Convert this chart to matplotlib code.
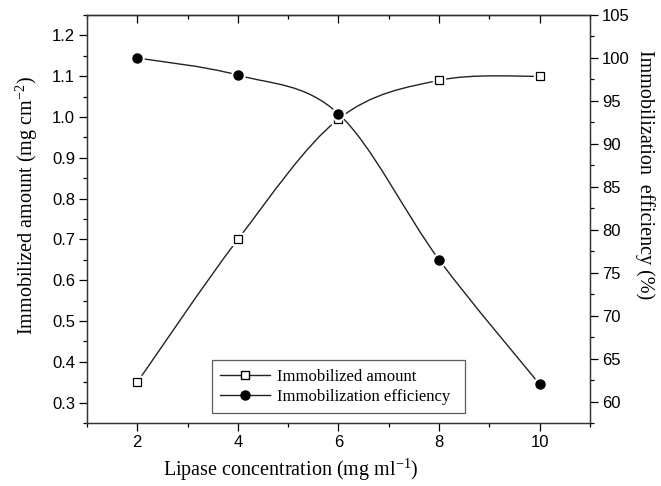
import numpy as np
import matplotlib.pyplot as plt
from matplotlib.path import Path
from matplotlib.patches import PathPatch
from matplotlib.lines import Line2D
from matplotlib.ticker import MultipleLocator

# lipase loading data
conc = [2, 4, 6, 8, 10]
amount = [0.35, 0.70, 0.995, 1.09, 1.10]
efficiency = [100.0, 98.0, 93.5, 76.5, 62.0]

x_ticks = [2, 4, 6, 8, 10]
left_ticks = [0.3, 0.4, 0.5, 0.6, 0.7, 0.8, 0.9, 1.0, 1.1, 1.2]
right_ticks = [60, 65, 70, 75, 80, 85, 90, 95, 100, 105]

sans = ['Liberation Sans', 'DejaVu Sans']
serif = ['Liberation Serif', 'DejaVu Serif']
ink = '#222222'


# smooth curve through the points as a bezier path (Catmull-Rom tangents)
def spline_path(xs, ys):
    p = np.column_stack([xs, ys]).astype(float)
    n = len(p)
    verts = [p[0]]
    codes = [Path.MOVETO]
    for i in range(n - 1):
        prev_p = p[i - 1] if i > 0 else p[i]
        next_p = p[i + 2] if i + 2 < n else p[i + 1]
        c1 = p[i] + (p[i + 1] - prev_p) / 6.0
        c2 = p[i + 1] - (next_p - p[i]) / 6.0
        verts += [c1, c2, p[i + 1]]
        codes += [Path.CURVE4] * 3
    return Path(verts, codes)


fig = plt.figure(figsize=(6.61, 4.86), dpi=100)
ax = fig.add_axes([0.1316, 0.1296, 0.7610, 0.8395])
ax2 = ax.twinx()

# curves
ax.add_patch(PathPatch(spline_path(conc, amount), facecolor='none',
                       edgecolor=ink, lw=1.0, zorder=2))
ax2.add_patch(PathPatch(spline_path(conc, efficiency), facecolor='none',
                        edgecolor=ink, lw=1.0, zorder=2))

# white halo under the markers leaves a small gap in the lines
ax.plot(conc, amount, ls='none', marker='s', ms=8.5, mfc='white', mec='white', zorder=3)
ax.plot(conc, amount, ls='none', marker='s', ms=5.5, mfc='white', mec='black', mew=0.9, zorder=4)
ax2.plot(conc, efficiency, ls='none', marker='o', ms=9.5, mfc='white', mec='white', zorder=3)
ax2.plot(conc, efficiency, ls='none', marker='o', ms=6.5, mfc='black', mec='black', zorder=4)

ax.set_xlim(1, 11)
ax.set_ylim(0.25, 1.25)
ax2.set_ylim(57.5, 105)

ax.set_xticks(x_ticks)
ax.xaxis.set_minor_locator(MultipleLocator(1))
ax.set_yticks(left_ticks)
ax.yaxis.set_minor_locator(MultipleLocator(0.05))
ax2.set_yticks(right_ticks)
ax2.yaxis.set_minor_locator(MultipleLocator(2.5))

ax.set_xticklabels([str(v) for v in x_ticks], fontfamily=sans, fontsize=12)
ax.set_yticklabels(['%.1f' % v for v in left_ticks], fontfamily=sans, fontsize=12)
ax2.set_yticklabels([str(v) for v in right_ticks], fontfamily=sans, fontsize=12)

ax.tick_params(axis='both', which='major', direction='out', length=5.5, width=0.9, pad=3)
ax.tick_params(axis='both', which='minor', direction='out', length=3, width=0.9)
ax2.tick_params(axis='y', which='major', direction='out', length=5.5, width=0.9, pad=3)
ax2.tick_params(axis='y', which='minor', direction='out', length=3, width=0.9)

# top axis carries inward ticks only
top = ax.secondary_xaxis('top')
top.set_xticks(x_ticks)
top.xaxis.set_minor_locator(MultipleLocator(1))
top.tick_params(axis='x', which='major', direction='in', length=5.5, width=0.9, labeltop=False)
top.tick_params(axis='x', which='minor', direction='in', length=3, width=0.9)

for a in (ax, ax2):
    for s in a.spines.values():
        s.set_linewidth(0.9)
        s.set_color('#333333')
top.spines['top'].set_linewidth(0.9)

ax.set_xlabel(r'Lipase concentration (mg ml$^{\mathregular{-1}}$)', fontfamily=serif,
              fontsize=14.5, va='center')
ax.xaxis.set_label_coords(0.405, -0.113)
ax.set_ylabel(r'Immobilized amount (mg cm$^{\mathregular{-2}}$)', fontfamily=serif,
              fontsize=14.5, va='center')
ax.yaxis.set_label_coords(-0.12, 0.532)
ax2.set_ylabel('Immobilization  efficiency (%)', fontfamily=serif, fontsize=14.5,
               rotation=270, va='center')
ax2.yaxis.set_label_coords(1.11, 0.608)

handles = [
    Line2D([], [], color=ink, lw=1.0, marker='s', ms=5.5, mfc='white', mec='black'),
    Line2D([], [], color=ink, lw=1.0, marker='o', ms=6.5, mfc='black', mec='black'),
]
leg = ax.legend(handles, ['Immobilized amount', 'Immobilization efficiency'],
                loc='lower left', bbox_to_anchor=(0.2485, 0.0245, 0.503, 0.13), mode='expand',
                borderaxespad=0, prop={'family': serif, 'size': 12}, frameon=True,
                fancybox=False, handlelength=3.0, handletextpad=0.4, borderpad=0.5,
                labelspacing=0.25)
leg.get_frame().set_edgecolor('#333333')
leg.get_frame().set_linewidth(0.9)

fig.savefig('out.png', dpi=100)
